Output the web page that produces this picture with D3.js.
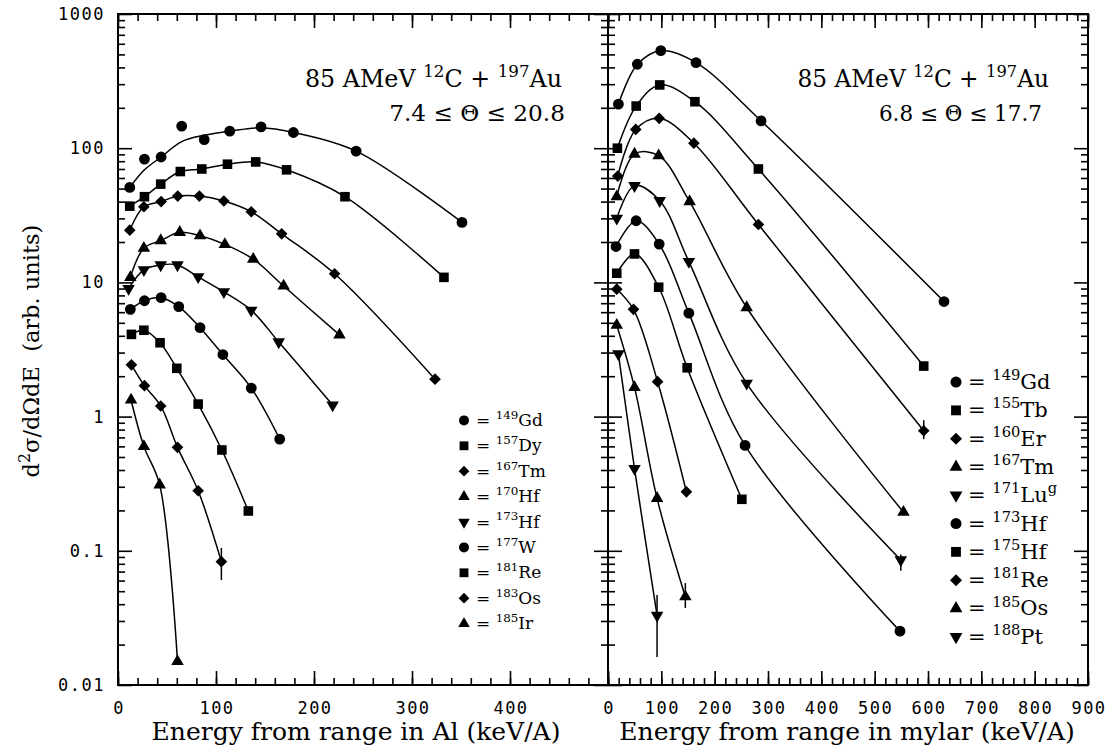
<!DOCTYPE html>
<html>
<head>
<meta charset="utf-8">
<script src="https://cdn.jsdelivr.net/npm/d3@7"></script>
<style>
  body { margin: 0; background: #fff; }
  text { font-family: "DejaVu Serif", "Liberation Serif", serif; fill: #000; }
  .num { font-family: "DejaVu Sans Mono", monospace; letter-spacing: 1.5px; }
</style>
</head>
<body>
<script>
// left panel: energy from range in Al, [E (keV/A), d2sigma/dOmega dE]
var al149Gd = [[12,51],[27,83],[44,86],[65,146],[88,116],[114,134],[146,144],[179,131],[243,95],[351,28]];
var al149GdFit = [[12,51],[27,69],[44,86],[65,112],[88,125],[114,134],[146,142],[179,131],[243,95],[351,28]];
var al157Dy = [[12,37],[27,43.5],[43.6,54],[63.6,67],[85.5,70],[111.7,76],[140.5,79],[172,69],[231.6,43.5],[332.6,10.9]];
var al167Tm = [[12,24.5],[26.4,36.6],[44,40],[61,44],[83,44],[108,40.4],[136,33.6],[167,23],[221,11.6],[323.5,1.9]];
var al170Hf = [[12.6,10.9],[26.4,18],[43.6,20.5],[63,23.6],[83.7,22.3],[109,19.2],[138,14.9],[169,9.4],[226,4.06]];
var al173Hf = [[10.8,9.0],[26.4,12.4],[43.6,13.5],[60.7,13.5],[81.8,11],[108,8.5],[136,6.2],[164,3.6],[219,1.22]];
var al177W = [[12.6,6.3],[27,7.3],[44,7.7],[62,6.6],[83.7,4.6],[107,2.9],[136,1.63],[165,0.68]];
var al181Re = [[13.7,4.1],[26.4,4.4],[42.9,3.55],[60,2.29],[81.8,1.24],[106,0.564],[133,0.198]];
var al183Os = [[13.7,2.43],[27,1.70],[43.6,1.20],[60.7,0.59],[81.8,0.28],[105.5,0.083]];
var al185Ir = [[13.3,1.33],[26.4,0.60],[42.5,0.31],[60.7,0.015]];
var alErr = [[105.5,0.0605,0.105]];   // [E, low, high]

// right panel: energy from range in mylar
var my149Gd = [[19.5,213],[55,422],[99,533],[165,434],[287,160],[630,7.2]];
var my155Tb = [[17.6,100],[52.8,206],[97,296],[163,222],[282,70],[592,2.38]];
var my160Er = [[18.3,62],[52,138],[96,167],[161,109],[282,27],[592,0.785]];
var my167Tm = [[16.4,43.5],[49.7,90.5],[95,88],[153,40],[260,6.5],[554,0.194]];
var my171Lu = [[16.4,30],[49.7,52.6],[97,40.6],[151.6,14.3],[260,1.77],[549,0.0855]];
var my173Hf = [[15,18.5],[52.8,28.8],[96,19.3],[151.6,5.9],[257,0.61],[547.5,0.0252]];
var my175Hf = [[16.4,11.7],[49.7,16.3],[95,9.2],[148.4,2.31],[251,0.242]];
var my181Re = [[16.4,8.9],[47.8,6.3],[93,1.82],[147,0.275]];
var my185Os = [[16.4,4.8],[49.7,1.65],[92,0.246],[145,0.0455]];
var my188Pt = [[19.5,2.93],[49.7,0.41],[92,0.033]];
var myErr = [[592,0.68,0.94],[549,0.071,0.094],[145,0.0375,0.0575],[92,0.0162,0.0469]];

var alNuclides = [["149","Gd"],["157","Dy"],["167","Tm"],["170","Hf"],["173","Hf"],["177","W"],["181","Re"],["183","Os"],["185","Ir"]];
var myNuclides = [["149","Gd"],["155","Tb"],["160","Er"],["167","Tm"],["171","Lu","g"],["173","Hf"],["175","Hf"],["181","Re"],["185","Os"],["188","Pt"]];
var alMarkers = ["circle","square","diamond","up","down","circle","square","diamond","up"];
var myMarkers = ["circle","square","diamond","up","down","circle","square","diamond","up","down"];

var yTickLabels = [1000,100,10,1,0.1,0.01];
var alTickLabels = [0,100,200,300,400];
var myTickLabels = [0,100,200,300,400,500,600,700,800,900];

var W = 1110, H = 752;
var svg = d3.select("body").append("svg").attr("width", W).attr("height", H);

var y = d3.scaleLog().domain([0.01, 1000]).range([685, 14]);
var xL = d3.scaleLinear().domain([0, 500]).range([118, 608]);
var xR = d3.scaleLinear().domain([0, 900]).range([608, 1088]);

var yMinor = [];
yTickLabels.slice(1).forEach(function(d) { for (var k = 2; k < 10; k++) yMinor.push(d * k); });

// marker generator
function marker(type, s) {
  if (type == "circle") return { d: d3.symbol().type(d3.symbolCircle).size(92 * s)(), r: 0 };
  if (type == "square") return { d: d3.symbol().type(d3.symbolSquare).size(92 * s)(), r: 0 };
  if (type == "diamond") return { d: d3.symbol().type(d3.symbolSquare).size(68 * s)(), r: 45 };
  if (type == "up") return { d: d3.symbol().type(d3.symbolTriangle).size(68 * s)(), r: 0 };
  return { d: d3.symbol().type(d3.symbolTriangle).size(68 * s)(), r: 180 };
}

// text with superscripts: parts = [[string, isSup], ...]
function rich(g, x, yy, parts, fs, anchor) {
  var t = g.append("text").attr("x", x).attr("y", yy).attr("font-size", fs)
    .attr("text-anchor", anchor || "start").style("white-space", "pre");
  var up = false;
  parts.forEach(function(p) {
    var ts = t.append("tspan").text(p[0]);
    if (p[1] && !up) { ts.attr("dy", -fs * 0.42); up = true; }
    else if (!p[1] && up) { ts.attr("dy", fs * 0.42); up = false; }
    if (p[1]) ts.attr("font-size", fs * 0.7);
  });
  return t;
}

function drawPanel(x, series, markers, fitLines, errs, majorStep, nuclides, leg) {
  var g = svg.append("g");
  var x0 = x.range()[0], x1 = x.range()[1];
  var dom = x.domain();
  var xMinor = d3.range(dom[0], dom[1] + 1, 20);
  var xMajor = d3.range(dom[0], dom[1] + 1, majorStep);

  // ticks on all four sides, pointing inward
  function ax(gen, tr, vals, len) {
    var a = g.append("g").attr("transform", tr)
      .call(gen.tickValues(vals).tickSize(len).tickFormat(""));
    a.select(".domain").remove();
    a.selectAll("line").attr("stroke", "#000").attr("stroke-width", 1.6);
  }
  ax(d3.axisRight(y), "translate(" + x0 + ",0)", yMinor, 7);
  ax(d3.axisRight(y), "translate(" + x0 + ",0)", yTickLabels, 14);
  ax(d3.axisLeft(y), "translate(" + x1 + ",0)", yMinor, 7);
  ax(d3.axisLeft(y), "translate(" + x1 + ",0)", yTickLabels, 14);
  ax(d3.axisBottom(x), "translate(0," + y.range()[1] + ")", xMinor, 7);
  ax(d3.axisBottom(x), "translate(0," + y.range()[1] + ")", xMajor, 14);
  ax(d3.axisTop(x), "translate(0," + y.range()[0] + ")", xMinor, 7);
  ax(d3.axisTop(x), "translate(0," + y.range()[0] + ")", xMajor, 14);

  g.append("rect").attr("x", x0).attr("y", y.range()[1])
    .attr("width", x1 - x0).attr("height", y.range()[0] - y.range()[1])
    .attr("fill", "none").attr("stroke", "#000").attr("stroke-width", 2);

  var line = d3.line().x(function(d) { return x(d[0]); }).y(function(d) { return y(d[1]); })
    .curve(d3.curveCatmullRom.alpha(0.5));

  series.forEach(function(s, i) {
    g.append("path").attr("d", line(fitLines[i] || s))
      .attr("fill", "none").attr("stroke", "#000").attr("stroke-width", 1.5);
  });
  errs.forEach(function(e) {
    g.append("line").attr("x1", x(e[0])).attr("x2", x(e[0]))
      .attr("y1", y(e[1])).attr("y2", y(e[2]))
      .attr("stroke", "#000").attr("stroke-width", 1.5);
  });
  series.forEach(function(s, i) {
    var m = marker(markers[i], 1);
    g.selectAll(null).data(s).enter().append("path")
      .attr("d", m.d).attr("fill", "#000")
      .attr("transform", function(d) {
        return "translate(" + x(d[0]) + "," + y(d[1]) + ") rotate(" + m.r + ")";
      });
  });

  // legend
  nuclides.forEach(function(n, i) {
    var yy = leg.y + i * leg.dy;
    var m = marker(markers[i], leg.s);
    g.append("path").attr("d", m.d).attr("fill", "#000")
      .attr("transform", "translate(" + leg.x + "," + (yy - leg.fs * 0.33) + ") rotate(" + m.r + ")");
    var parts = [["= ", 0], [n[0], 1], [n[1], 0]];
    if (n[2]) parts.push([n[2], 1]);
    rich(g, leg.x + 12, yy, parts, leg.fs);
  });
  return g;
}

drawPanel(xL, [al149Gd, al157Dy, al167Tm, al170Hf, al173Hf, al177W, al181Re, al183Os, al185Ir],
  alMarkers, [al149GdFit], alErr, 100, alNuclides, { x: 464, y: 426, dy: 25.4, fs: 17, s: 0.85 });
drawPanel(xR, [my149Gd, my155Tb, my160Er, my167Tm, my171Lu, my173Hf, my175Hf, my181Re, my185Os, my188Pt],
  myMarkers, [], myErr, 100, myNuclides, { x: 956, y: 389, dy: 28.3, fs: 21, s: 1.05 });

// tick labels
svg.append("g").selectAll("text").data(yTickLabels).enter().append("text")
  .attr("class", "num").attr("font-size", 17).attr("text-anchor", "end")
  .attr("x", 105).attr("y", function(d) { return y(d) + 6; })
  .text(function(d) { return String(d); });
svg.append("g").selectAll("text").data(alTickLabels).enter().append("text")
  .attr("class", "num").attr("font-size", 17).attr("text-anchor", "middle")
  .attr("x", function(d) { return xL(d) + 1; }).attr("y", 714)
  .text(function(d) { return d; });
svg.append("g").selectAll("text").data(myTickLabels).enter().append("text")
  .attr("class", "num").attr("font-size", 17).attr("text-anchor", "middle")
  .attr("x", function(d) { return xR(d) + 1; }).attr("y", 714)
  .text(function(d) { return d; });

// titles
var beam = [["85 AMeV ", 0], ["12", 1], ["C + ", 0], ["197", 1], ["Au", 0]];
rich(svg, 562, 87, beam, 23.8, "end");
svg.append("text").attr("x", 565).attr("y", 121).attr("font-size", 23.2)
  .attr("text-anchor", "end").text("7.4 \u2264 \u0398 \u2264 20.8");
rich(svg, 1049, 87, beam, 23.3, "end");
svg.append("text").attr("x", 1042).attr("y", 121).attr("font-size", 21.5)
  .attr("text-anchor", "end").text("6.8 \u2264 \u0398 \u2264 17.7");

svg.append("text").attr("x", 356).attr("y", 740).attr("font-size", 25)
  .attr("text-anchor", "middle").text("Energy from range in Al (keV/A)");
svg.append("text").attr("x", 847).attr("y", 740).attr("font-size", 25)
  .attr("text-anchor", "middle").text("Energy from range in mylar (keV/A)");

var yl = svg.append("g").attr("transform", "translate(39,351) rotate(-90)");
rich(yl, 0, 0, [["d", 0], ["2", 1], ["\u03c3/d\u03a9dE  (arb. units)", 0]], 22.5, "middle");
</script>
</body>
</html>
